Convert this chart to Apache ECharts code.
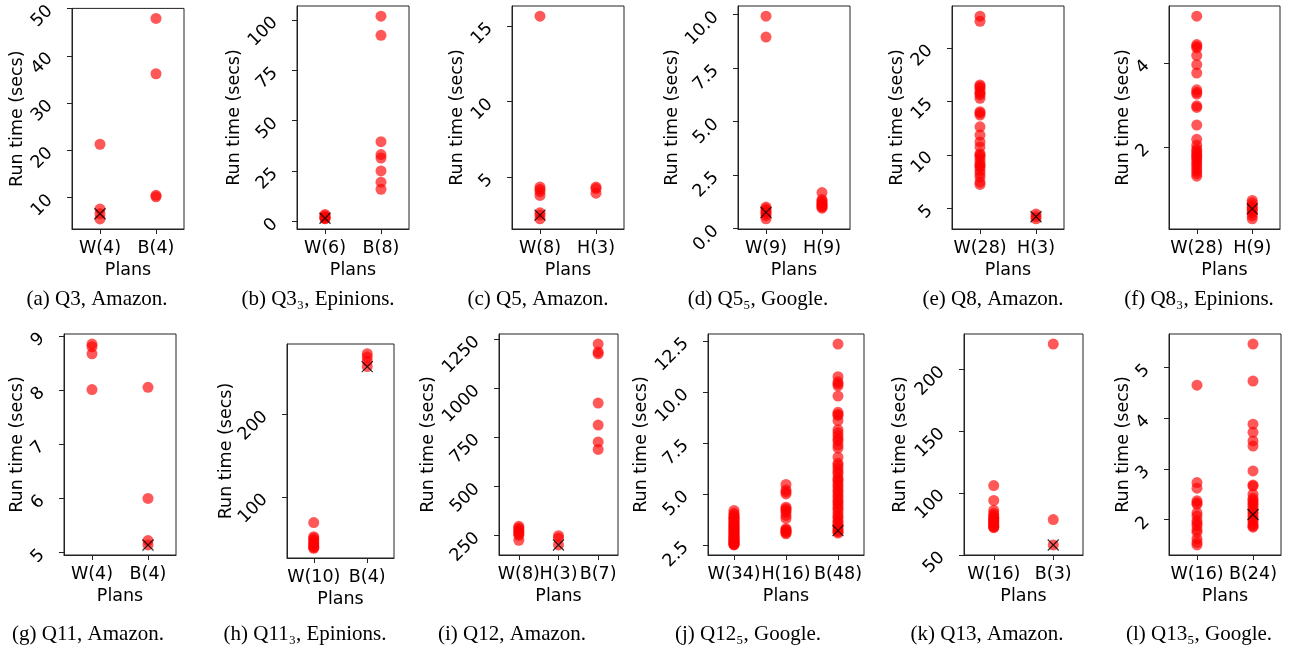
<!DOCTYPE html>
<html><head><meta charset="utf-8">
<script src="https://cdn.jsdelivr.net/npm/echarts@6/dist/echarts.min.js"></script>
<style>html,body{margin:0;padding:0;background:#fff}#c{width:1292px;height:645px}</style>
</head><body><div id="c"></div>
<script>
// ---------- data ----------
const catsA = ['W(4)', 'B(4)'];
const a_W = [21.3, 7.6, 6.6, 5.5];
const a_B = [47.9, 36.2, 10.5, 10.2];
const ticksA = [10, 20, 30, 40, 50];

const catsB = ['W(6)', 'B(8)'];
const b_W = [3.5, 2.8, 2.2, 1.9, 1.6, 1.3];
const b_B = [101.9, 92.4, 39.6, 33.2, 31.5, 25.1, 19.5, 16.0];
const ticksB = [0, 25, 50, 75, 100];

const catsC = ['W(8)', 'H(3)'];
const c_W = [15.65, 4.35, 4.2, 4.05, 3.8, 2.65, 2.5, 2.25];
const c_H = [4.35, 4.25, 3.95];
const ticksC = [5, 10, 15];

const catsD = ['W(9)', 'H(9)'];
const d_W = [9.93, 8.95, 1.0, 0.92, 0.85, 0.75, 0.7, 0.6, 0.45];
const d_H = [1.68, 1.35, 1.28, 1.22, 1.15, 1.1, 1.05, 1.0, 0.95];
const ticksD = [0, 2.5, 5, 7.5, 10];

const catsE = ['W(28)', 'H(3)'];
const e_W = [22.98, 22.5, 16.54, 16.4, 16.23, 15.91, 15.75, 15.6, 15.29, 14.03, 13.9, 13.72, 12.62, 11.84,
             11.2, 10.73, 10.1, 9.95, 9.79, 9.48, 9.17, 9.0, 8.85, 8.54, 8.23, 7.91, 7.44, 7.22];
const e_H = [4.45, 4.2, 4.0];
const ticksE = [5, 10, 15, 20];

const catsF = ['W(28)', 'H(9)'];
const f_W = [5.12, 4.44, 4.40, 4.36, 4.18, 3.96, 3.76, 3.36, 3.30, 3.26, 2.98, 2.94, 2.52, 2.18,
             2.04, 1.95, 1.90, 1.85, 1.80, 1.76, 1.72, 1.66, 1.60, 1.55, 1.48, 1.42, 1.36, 1.30];
const f_H = [0.72, 0.66, 0.6, 0.55, 0.52, 0.48, 0.42, 0.35, 0.28];
const ticksF = [2, 4];

const catsG = ['W(4)', 'B(4)'];
const g_W = [8.85, 8.8, 8.67, 8.01];
const g_B = [8.05, 6.0, 5.22, 5.14];
const ticksG = [5, 6, 7, 8, 9];

const catsH = ['W(10)', 'B(4)'];
const h_W = [69, 52, 50, 48, 46, 44, 42, 40, 39, 38];
const h_B = [273, 269, 264, 257.5];
const ticksH = [100, 200];

const catsI = ['W(8)', 'H(3)', 'B(7)'];
const i_W = [296, 288, 280, 272, 265, 258, 250, 225];
const i_H = [248, 237, 201];
const i_B = [1225, 1185, 1175, 924, 812, 726, 688];
const ticksI = [250, 500, 750, 1000, 1250];

const catsJ = ['W(34)', 'H(16)', 'B(48)'];
const j_W = [4.19, 4.05, 3.98, 3.9, 3.86, 3.8, 3.74, 3.7, 3.63, 3.58, 3.52, 3.47, 3.41, 3.37, 3.3, 3.26, 3.21,
             3.15, 3.12, 3.06, 3.0, 2.96, 2.91, 2.87, 2.83, 2.78, 2.74, 2.7, 2.66, 2.62, 2.58, 2.55, 2.52, 2.5];
const j_H = [5.47, 5.2, 5.1, 5.0, 4.35, 4.28, 4.2, 4.1, 3.95, 3.8, 3.3, 3.25, 3.2, 3.15, 3.1, 3.05];
const j_B = [12.35, 10.75, 10.5, 10.4, 10.3, 9.8, 9.0, 8.9, 8.85, 8.6, 8.15, 8.0, 7.85, 7.7, 7.6, 7.4, 7.25,
             6.8, 6.5, 6.4, 6.25, 6.1, 6.0, 5.8, 5.7, 5.6, 5.45, 5.35, 5.2, 5.1, 4.95, 4.85, 4.7, 4.6, 4.5,
             4.35, 4.25, 4.1, 3.95, 3.85, 3.7, 3.6, 3.5, 3.4, 3.3, 3.2, 3.15, 3.08];
const ticksJ = [2.5, 5, 7.5, 10, 12.5];

const catsK = ['W(16)', 'B(3)'];
const k_W = [106, 94, 86, 83.5, 82, 80.5, 79.5, 78.5, 77.5, 77, 76, 75, 74, 73, 72.5, 72];
const k_B = [220.5, 78.5, 58];
const ticksK = [50, 100, 150, 200];

const catsL = ['W(16)', 'B(24)'];
const l_W = [4.65, 2.73, 2.62, 2.37, 2.33, 2.3, 2.13, 2.07, 1.98, 1.93, 1.88, 1.8, 1.75, 1.62, 1.55, 1.5];
const l_B = [5.46, 4.73, 3.88, 3.72, 3.55, 3.45, 2.96, 2.68, 2.66, 2.5, 2.42, 2.38, 2.34, 2.3, 2.26, 2.2,
             2.15, 2.1, 2.05, 2.0, 1.95, 1.9, 1.87, 1.85];
const ticksL = [2, 3, 4, 5];

// best plan markers: [category index, value]
const bestA = [0, 6.6], bestB = [0, 1.6], bestC = [0, 2.5], bestD = [0, 0.75];
const bestE = [1, 4.2], bestF = [1, 0.52], bestG = [1, 5.14], bestH = [1, 257.5];
const bestI = [1, 201], bestJ = [2, 3.2], bestK = [1, 58], bestL = [1, 2.1];

const captions = ['(a) Q3, Amazon.', '(b) Q3\u2083, Epinions.', '(c) Q5, Amazon.', '(d) Q5\u2085, Google.',
  '(e) Q8, Amazon.', '(f) Q8\u2083, Epinions.', '(g) Q11, Amazon.', '(h) Q11\u2083, Epinions.',
  '(i) Q12, Amazon.', '(j) Q12\u2085, Google.', '(k) Q13, Amazon.', '(l) Q13\u2085, Google.'];

const panels = [
  {cats: catsA, groups: [a_W, a_B], best: bestA, ticks: ticksA, dec: 0},
  {cats: catsB, groups: [b_W, b_B], best: bestB, ticks: ticksB, dec: 0},
  {cats: catsC, groups: [c_W, c_H], best: bestC, ticks: ticksC, dec: 0},
  {cats: catsD, groups: [d_W, d_H], best: bestD, ticks: ticksD, dec: 1},
  {cats: catsE, groups: [e_W, e_H], best: bestE, ticks: ticksE, dec: 0},
  {cats: catsF, groups: [f_W, f_H], best: bestF, ticks: ticksF, dec: 0},
  {cats: catsG, groups: [g_W, g_B], best: bestG, ticks: ticksG, dec: 0},
  {cats: catsH, groups: [h_W, h_B], best: bestH, ticks: ticksH, dec: 0},
  {cats: catsI, groups: [i_W, i_H, i_B], best: bestI, ticks: ticksI, dec: 0},
  {cats: catsJ, groups: [j_W, j_H, j_B], best: bestJ, ticks: ticksJ, dec: 1},
  {cats: catsK, groups: [k_W, k_B], best: bestK, ticks: ticksK, dec: 0},
  {cats: catsL, groups: [l_W, l_B], best: bestL, ticks: ticksL, dec: 0}
];

// ---------- layout ----------
// plot boxes: [left, top, right, bottom], y-name gap, caption center x, caption center y
const boxes = [
  [72, 6, 184, 229], [297, 6, 409, 229], [512, 6, 624, 229], [738, 6, 850, 229],
  [952, 6, 1064, 229], [1169, 6, 1280, 229],
  [64, 334, 176, 555], [287, 344, 394, 558], [499, 334, 618, 555], [708, 334, 864, 555],
  [964, 334, 1083, 555], [1169, 334, 1281, 555]
];
const nameGaps = [46, 54, 46, 57, 46, 37, 38, 52, 62, 58, 55, 37];
const capX = [97, 318, 538, 758, 993, 1199, 88, 305, 512, 748, 987, 1199];
const capY = [299, 299, 299, 299, 299, 299, 634, 634, 634, 634, 634, 634];

const FONT = 'DejaVu Sans';
const FS = 17.5;
const LINE = '#222';

const grids = [], xAxes = [], yAxes = [], series = [], graphics = [];
panels.forEach((p, i) => {
  const b = boxes[i];
  grids.push({left: b[0], top: b[1], width: b[2] - b[0], height: b[3] - b[1],
    show: true, borderColor: LINE, borderWidth: 1, containLabel: false});
  let all = [];
  p.groups.forEach(g => all = all.concat(g));
  const lo = Math.min(...all), hi = Math.max(...all), pad = (hi - lo) * 0.05;
  xAxes.push({type: 'category', gridIndex: i, data: p.cats, boundaryGap: true,
    axisLine: {show: true, onZero: false, lineStyle: {color: LINE, width: 1}},
    axisTick: {show: true, alignWithLabel: true, length: 5, lineStyle: {color: LINE}},
    axisLabel: {interval: 0, fontFamily: FONT, fontSize: FS, color: '#000', margin: 10},
    splitLine: {show: false},
    name: 'Plans', nameLocation: 'middle', nameGap: 32, nameMoveOverlap: false,
    nameTextStyle: {fontFamily: FONT, fontSize: FS, color: '#000'}});
  yAxes.push({type: 'value', gridIndex: i, min: lo - pad, max: hi + pad, scale: true,
    axisLine: {show: true, onZero: false, lineStyle: {color: LINE, width: 1}},
    axisTick: {show: true, length: 5, lineStyle: {color: LINE}, customValues: p.ticks},
    axisLabel: {customValues: p.ticks, rotate: 45, fontFamily: FONT, fontSize: FS, color: '#000', margin: 22,
      padding: [11, 0, 0, 0],
      formatter: v => p.dec ? Number(v).toFixed(p.dec) : String(v)},
    splitLine: {show: false},
    name: 'Run time (secs)', nameLocation: 'middle', nameRotate: 90, nameGap: nameGaps[i],
    nameMoveOverlap: false,
    nameTextStyle: {fontFamily: FONT, fontSize: FS, color: '#000'}});
  const pts = [];
  p.groups.forEach((g, j) => g.forEach(v => pts.push([p.cats[j], v])));
  series.push({type: 'scatter', xAxisIndex: i, yAxisIndex: i, data: pts, symbol: 'circle', symbolSize: 11,
    itemStyle: {color: 'rgba(255,0,0,0.82)'}, silent: true, z: 2});
  series.push({type: 'scatter', xAxisIndex: i, yAxisIndex: i,
    data: [[p.cats[p.best[0]], p.best[1]]],
    symbol: 'path://M0,0L10,10M10,0L0,10', symbolSize: 11,
    itemStyle: {color: 'transparent', borderColor: '#000', borderWidth: 1.2}, silent: true, z: 3});
  graphics.push({type: 'text', x: capX[i], y: capY[i], silent: true,
    style: {text: captions[i], fontFamily: 'Liberation Serif', fontSize: 21, fill: '#000',
      align: 'center', verticalAlign: 'middle', textAlign: 'center', textVerticalAlign: 'middle'}});
});

const chart = echarts.init(document.getElementById('c'), null, {renderer: 'canvas'});
chart.setOption({animation: false, backgroundColor: '#fff',
  grid: grids, xAxis: xAxes, yAxis: yAxes, series: series, graphic: graphics});
</script>
</body></html>
